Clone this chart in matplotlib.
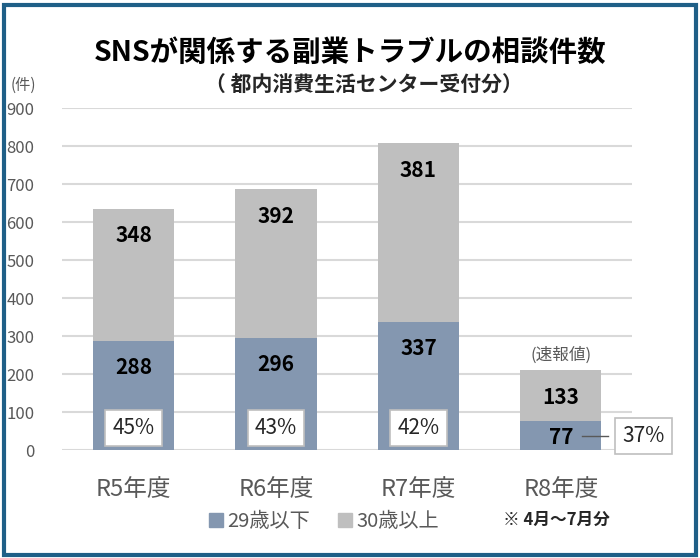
import matplotlib.pyplot as plt
from matplotlib.patches import Rectangle

plt.rcParams['font.family'] = ['Noto Sans CJK JP', 'DejaVu Sans']

years = ['R5年度', 'R6年度', 'R7年度', 'R8年度']
under29 = [288, 296, 337, 77]
# 30歳以上: bar heights as drawn (R7 is drawn to ~808 total) and labels as printed
over30 = [348, 392, 471, 133]
over30_labels = ['348', '392', '381', '133']
share_under29 = ['45%', '43%', '42%', '37%']

c_blue = '#8497b0'
c_gray = '#bfbfbf'
c_text = '#595959'

fig = plt.figure(figsize=(7, 5.58), dpi=100)
ax = fig.add_axes([0.089, 0.1935, 0.814, 0.6125])

x = range(len(years))
ax.bar(x, under29, width=0.57, color=c_blue, zorder=2)
ax.bar(x, over30, width=0.57, bottom=under29, color=c_gray, zorder=2)

ax.set_ylim(0, 900)
ax.set_xlim(-0.5, 3.5)
ax.set_yticks(range(0, 901, 100))
ax.grid(axis='y', color='#d9d9d9', linewidth=1.5, zorder=0)
ax.tick_params(axis='y', length=0, pad=20, labelsize=12, labelcolor=c_text)
ax.set_xticks([])
for s in ax.spines.values():
    s.set_visible(False)

for i in x:
    lo = under29[i]
    ax.text(i, max(lo - 70, lo * 0.42), str(lo), ha='center', va='center',
            fontsize=15, fontweight='bold', color='black', zorder=3)
    top = lo + over30[i]
    ax.text(i, top - 72, over30_labels[i], ha='center', va='center',
            fontsize=15, fontweight='bold', color='black', zorder=3)
    ax.text(i, -105, years[i], ha='center', va='center', fontsize=17, color=c_text)

box = dict(boxstyle='square,pad=0.35', facecolor='white', edgecolor='#bfbfbf', linewidth=1.2)
for i in range(3):
    ax.text(i, 58, share_under29[i], ha='center', va='center', fontsize=15,
            color='#262626', bbox=box, zorder=4)

# R8: box outside the bar with a leader line
ax.plot([3.15, 3.33], [37, 37], color='#595959', linewidth=1, clip_on=False, zorder=4)
ax.text(3.58, 37, share_under29[3], ha='center', va='center', fontsize=15,
        color='#262626', bbox=box, zorder=4, clip_on=False)
ax.text(3, 250, '(速報値)', ha='center', va='center', fontsize=12, color=c_text)

fig.text(0.5, 0.905, 'SNSが関係する副業トラブルの相談件数', ha='center', va='center',
         fontsize=20.5, fontweight='bold', color='black')
fig.text(0.52, 0.847, '（ 都内消費生活センター受付分）', ha='center', va='center',
         fontsize=15, fontweight='bold', color='#262626')
fig.text(0.033, 0.847, '(件)', ha='center', va='center', fontsize=11, color=c_text)

handles = [Rectangle((0, 0), 1, 1, color=c_blue), Rectangle((0, 0), 1, 1, color=c_gray)]
fig.legend(handles, ['29歳以下', '30歳以上'], loc='center', bbox_to_anchor=(0.463, 0.065),
           ncol=2, frameon=False, fontsize=14.5, handlelength=0.7, handleheight=0.7,
           handletextpad=0.2, columnspacing=1.4, labelcolor=c_text)
fig.text(0.795, 0.068, '※ 4月～7月分', ha='center', va='center', fontsize=12,
         fontweight='bold', color='#262626')

fig.patches.append(Rectangle((0.006, 0.006), 0.988, 0.985, transform=fig.transFigure,
                             fill=False, edgecolor='#1f5f87', linewidth=3))

fig.savefig('out.png', dpi=100)
